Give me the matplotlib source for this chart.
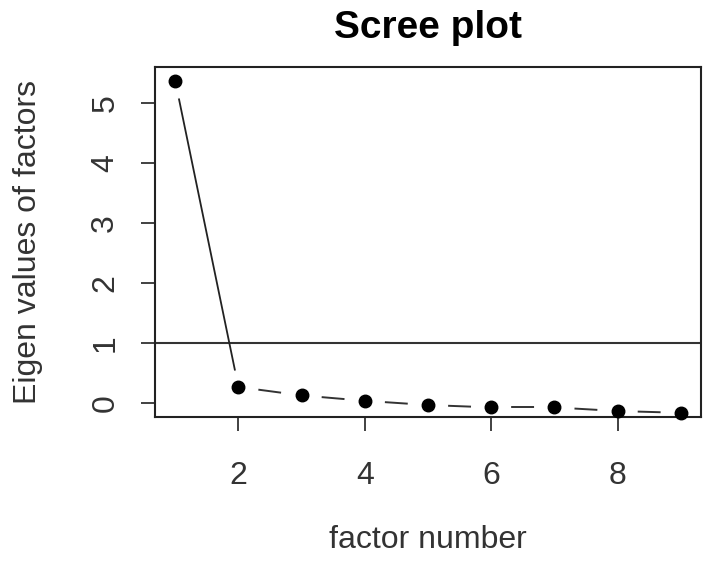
import matplotlib
matplotlib.use("Agg")
import matplotlib.pyplot as plt

plt.rcParams['font.family'] = ['Liberation Sans', 'DejaVu Sans']
plt.rcParams['lines.scale_dashes'] = False

# scree data
factor_num = [1, 2, 3, 4, 5, 6, 7, 8, 9]
eigen_vals = [5.37, 0.27, 0.13, 0.04, -0.03, -0.07, -0.07, -0.13, -0.16]
x_ticks = [2, 4, 6, 8]
y_ticks = [0, 1, 2, 3, 4, 5]
cutoff = 1

fig = plt.figure(figsize=(7.09, 5.64), dpi=100)
ax = fig.add_axes([0.2186, 0.2606, 0.7701, 0.6206])

# first drop solid
ax.plot(factor_num[:2], eigen_vals[:2], color='#222222', lw=1.3, zorder=2)
# remaining steps: one dash per step, gap before it (R type="b" look)
gap_pt, dash_pt = 14.5, 16.5
for i in range(1, len(factor_num) - 1):
    ax.plot(factor_num[i:i + 2], eigen_vals[i:i + 2], color='#333333', lw=1.4,
            linestyle=(100 - gap_pt, (dash_pt, 100 - dash_pt)), zorder=2)
# white halo gives the gaps around the points
ax.plot(factor_num, eigen_vals, 'o', ms=24, color='white', zorder=2.1)
ax.plot(factor_num, eigen_vals, 'o', ms=9, color='black', zorder=3,
        clip_on=False)

ax.axhline(cutoff, color='#333333', lw=1.5, zorder=1)

ax.set_xlim(0.68, 9.32)
ax.set_ylim(-0.23, 5.6)
ax.set_xticks(x_ticks)
ax.set_yticks(y_ticks)
ax.tick_params(axis='both', direction='out', length=10, width=1.3,
               labelsize=23, labelcolor='#333333', color='#333333')
ax.tick_params(axis='x', pad=22)
ax.tick_params(axis='y', pad=15)
for lab in ax.get_yticklabels():
    lab.set_rotation(90)
    lab.set_va('center')
for sp in ax.spines.values():
    sp.set_linewidth(1.5)
    sp.set_color('#222222')

ax.set_xlabel('factor number', fontsize=23, color='#333333', labelpad=24)
ax.set_ylabel('Eigen values of factors', fontsize=23, color='#333333',
              labelpad=34)
ax.set_title('Scree plot', fontsize=28, fontweight='bold', pad=21)

fig.savefig('out.png', dpi=100)
